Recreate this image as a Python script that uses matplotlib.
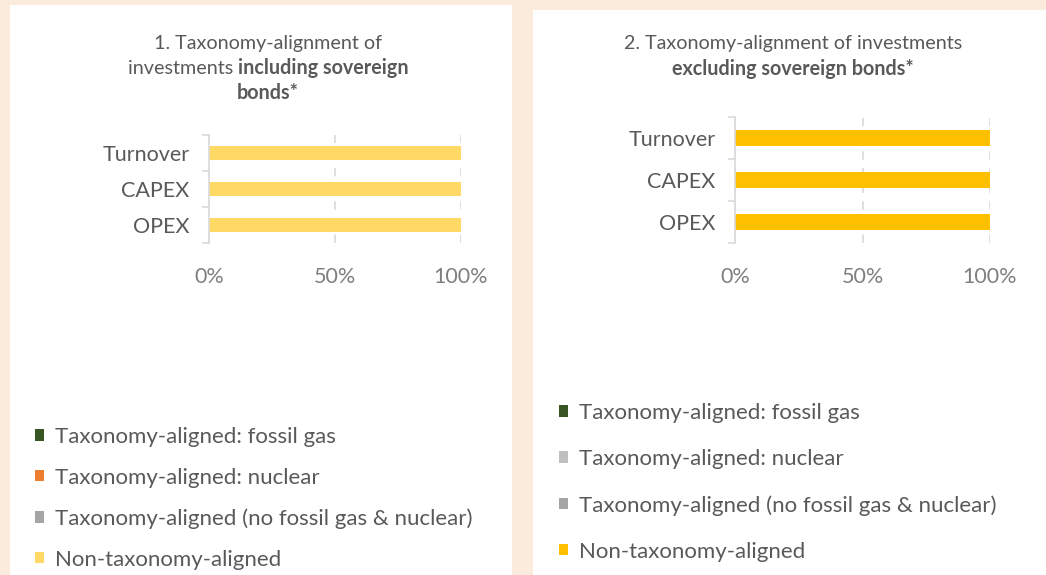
import numpy as np
import matplotlib
matplotlib.use('Agg')
from matplotlib import pyplot as plt
from matplotlib.patches import Rectangle

plt.rcParams['font.family'] = ['Lato', 'DejaVu Sans']

categories = ['Turnover', 'CAPEX', 'OPEX']
series = ['Taxonomy-aligned: fossil gas',
          'Taxonomy-aligned: nuclear',
          'Taxonomy-aligned (no fossil gas & nuclear)',
          'Non-taxonomy-aligned']
# percentages, one list per series (Turnover, CAPEX, OPEX)
incl_fossil = [0, 0, 0]
incl_nuclear = [0, 0, 0]
incl_other = [0, 0, 0]
incl_non = [100, 100, 100]
excl_fossil = [0, 0, 0]
excl_nuclear = [0, 0, 0]
excl_other = [0, 0, 0]
excl_non = [100, 100, 100]
xticks = [0, 50, 100]
xtick_labels = ['0%', '50%', '100%']

TXT = '#595959'
W, H = 1046, 575


def px(x0, y0, x1, y1):
    return [x0 / W, 1 - y1 / H, (x1 - x0) / W, (y1 - y0) / H]


def title_line(fig, xc, y, parts, size=14.2):
    # parts: list of (text, weight); centred at xc (pixels)
    r = fig.canvas.get_renderer()
    objs = []
    for t, wgt in parts:
        objs.append(fig.text(0, 1 - y / H, t, fontsize=size, fontweight=wgt,
                             color=TXT, va='center', ha='left'))
    widths = [o.get_window_extent(r).width for o in objs]
    x = xc - sum(widths) / 2
    for o, w in zip(objs, widths):
        o.set_x(x / W)
        x += w


def panel(fig, box, data, colors, bar_h, legend_pos, lspace):
    ax = fig.add_axes(px(*box))
    ax.set_zorder(2)
    ax.patch.set_alpha(0)
    y = np.arange(len(categories))
    left = np.zeros(len(categories))
    handles = []
    for vals, c, name in zip(data, colors, series):
        b = ax.barh(y, vals, left=left, height=bar_h, color=c, label=name)
        handles.append(b)
        left = left + np.array(vals)
    ax.set_ylim(len(categories) - 0.5, -0.5)
    ax.set_xlim(0, 100)
    ax.set_yticks(y)
    ax.set_yticklabels(categories)
    ax.set_yticks(np.arange(-0.5, len(categories)), minor=True)
    ax.tick_params(axis='y', which='major', length=0, labelsize=15.5,
                   labelcolor=TXT, pad=14)
    ax.tick_params(axis='y', which='minor', length=5, color='#D9D9D9',
                   direction='out', width=1.2)
    ax.set_xticks(xticks)
    ax.set_xticklabels(xtick_labels)
    ax.tick_params(axis='x', length=0, labelsize=15.5, labelcolor='#7F7F7F',
                   pad=17)
    ax.xaxis.grid(True, color='#D9D9D9', linestyle=(0, (5, 5)), linewidth=1.2)
    ax.set_axisbelow(True)
    for s in ['top', 'right', 'bottom']:
        ax.spines[s].set_visible(False)
    ax.spines['left'].set_color('#D9D9D9')
    ax.spines['left'].set_linewidth(1.2)
    fig.legend(handles=handles, loc='upper left',
               bbox_to_anchor=(legend_pos[0] / W, 1 - legend_pos[1] / H),
               frameon=False, fontsize=16, labelcolor=TXT,
               handlelength=0.4, handleheight=0.4, handletextpad=0.5,
               labelspacing=lspace, borderaxespad=0, borderpad=0)
    return ax


def main():
    fig = plt.figure(figsize=(10.46, 5.75), dpi=100)
    fig.patch.set_facecolor('#FBEBDC')
    fig.patches.append(Rectangle((10 / W, 0), 502 / W, 1 - 5 / H,
                                 transform=fig.transFigure, facecolor='white',
                                 edgecolor='none', zorder=-1))
    fig.patches.append(Rectangle((533 / W, 0), 513 / W, 1 - 10 / H,
                                 transform=fig.transFigure, facecolor='white',
                                 edgecolor='none', zorder=-1))

    panel(fig, (209, 135, 461, 243),
          [incl_fossil, incl_nuclear, incl_other, incl_non],
          ['#375623', '#ED7D31', '#A5A5A5', '#FFD966'], 0.37,
          (35, 427), 0.93)
    panel(fig, (735, 117, 990, 243),
          [excl_fossil, excl_nuclear, excl_other, excl_non],
          ['#375623', '#BFBFBF', '#A5A5A5', '#FFC000'], 0.38,
          (559, 403), 1.17)

    title_line(fig, 268, 43, [('1. Taxonomy-alignment of', 'normal')])
    title_line(fig, 268, 68, [('investments ', 'normal'),
                              ('including sovereign', 'bold')])
    title_line(fig, 268, 93, [('bonds*', 'bold')])
    title_line(fig, 793, 43, [('2. Taxonomy-alignment of investments', 'normal')])
    title_line(fig, 793, 69, [('excluding sovereign bonds*', 'bold')])

    fig.savefig('out.png', dpi=100, facecolor=fig.get_facecolor())


if __name__ == '__main__':
    main()
